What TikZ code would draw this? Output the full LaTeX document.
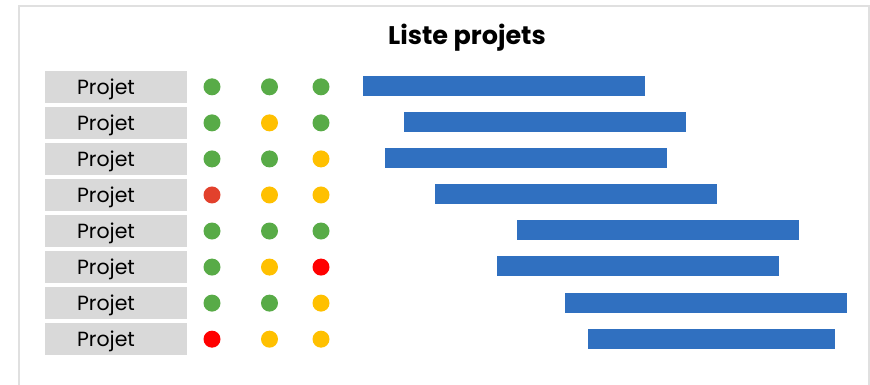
\documentclass[tikz,border=0pt]{standalone}
\usepackage{fontspec}
\setmainfont{Poppins}
\usetikzlibrary{positioning}
\definecolor{okgreen}{HTML}{58AB47}
\definecolor{warnyellow}{HTML}{FFC000}
\definecolor{badred}{HTML}{FF0000}
\definecolor{latered}{HTML}{E2412C}
\definecolor{barblue}{HTML}{3070C0}
\definecolor{boxgray}{HTML}{D9D9D9}
\definecolor{framegray}{HTML}{E0E0E0}
\begin{document}
\begin{tikzpicture}[x=1pt, y=-1pt,
    projbox/.style={rectangle, fill=boxgray, minimum width=142pt, minimum height=31.7pt, inner sep=0pt},
    projtext/.style={font=\fontsize{20.5}{20.5}\selectfont, inner sep=0pt, anchor=base},
    dot/.style={circle, fill=#1, minimum size=17pt, inner sep=0pt},
    ganttbar/.style={rectangle, fill=barblue, minimum height=20pt, inner sep=0pt, anchor=west}]
    \useasboundingbox (0,0) rectangle (870,384);
    \draw[framegray, line width=2pt] (19,6) rectangle (869,400);

    \node[font=\fontsize{25.5}{25.5}\selectfont\bfseries, anchor=base] (title) at (467,44) {Liste projets};

    % one row per project: box, three status dots, bar
    \foreach \i/\a/\b/\c/\start/\len in {
        1/okgreen/okgreen/okgreen/363/282,
        2/okgreen/warnyellow/okgreen/404/282,
        3/okgreen/okgreen/warnyellow/385/282,
        4/latered/warnyellow/warnyellow/435/282,
        5/okgreen/okgreen/okgreen/517/282,
        6/okgreen/warnyellow/badred/497/282,
        7/okgreen/okgreen/warnyellow/565/282,
        8/badred/warnyellow/warnyellow/588/247} {
      \pgfmathsetmacro{\yrow}{86.8+36.05*(\i-1)}
      \node[projbox] (box\i) at (116,\yrow) {};
      \node[projtext] (name\i) at (106,\yrow+7.2) {Projet};
      \node[dot=\a] (s\i a) at (212,\yrow) {};
      \node[dot=\b] (s\i b) at (269.5,\yrow) {};
      \node[dot=\c] (s\i c) at (321,\yrow) {};
      \node[ganttbar, minimum width=\len pt] (bar\i) at (\start,\yrow-0.6) {};
    }
\end{tikzpicture}
\end{document}
